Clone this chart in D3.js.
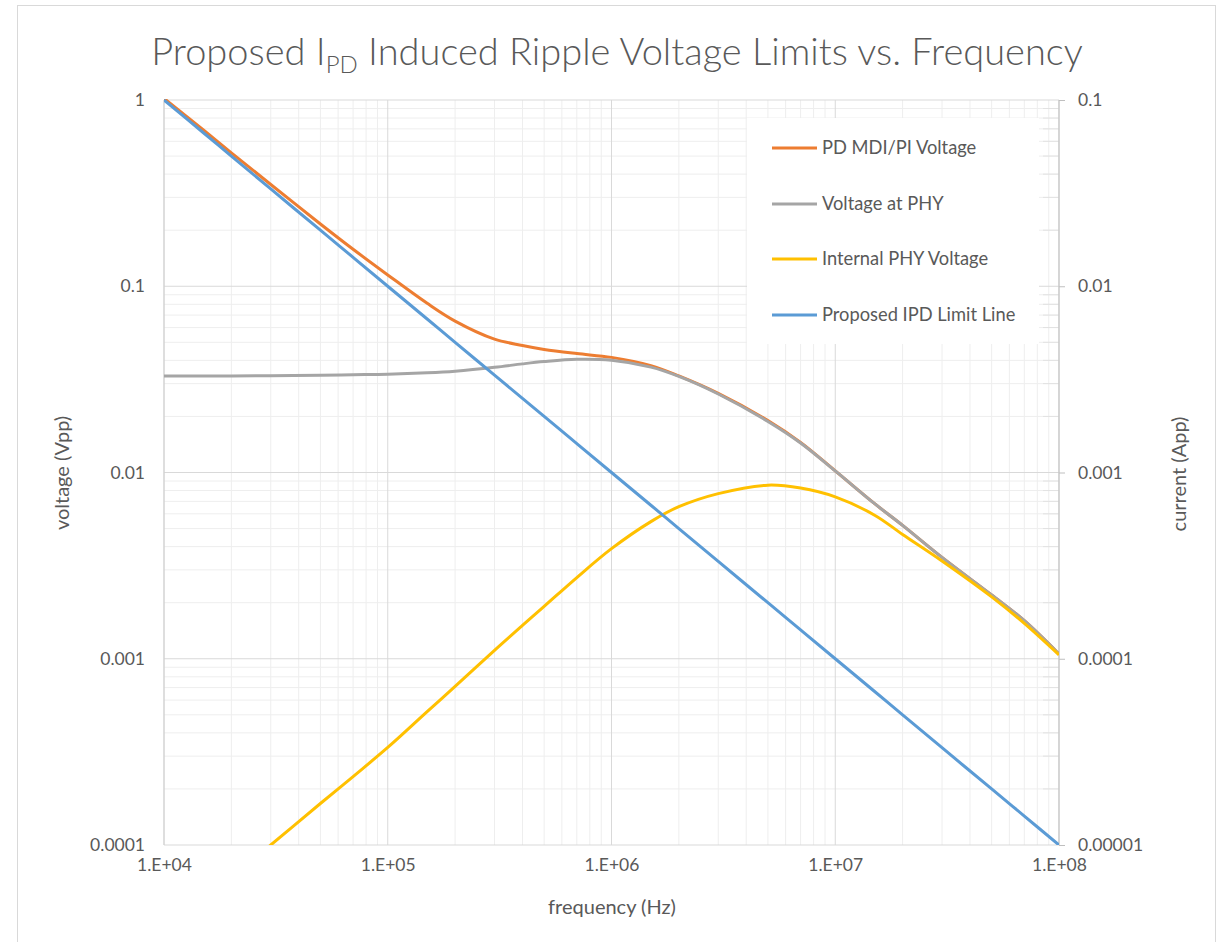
<!DOCTYPE html>
<html>
<head>
<meta charset="utf-8">
<script src="https://cdn.jsdelivr.net/npm/d3@7"></script>
<style>
  body { margin: 0; background: #fff; }
  svg text { font-family: Lato, "Open Sans", sans-serif; fill: #595959; }
</style>
</head>
<body>
<div id="chart"></div>
<script>
// frequency points (Hz)
const freq = [1e4, 1.5e4, 2e4, 3e4, 5e4, 7e4, 1e5, 1.5e5, 2e5, 3e5, 4e5, 5e5, 7e5,
  1e6, 1.5e6, 2e6, 3e6, 5e6, 7e6, 1e7, 1.5e7, 2e7, 3e7, 5e7, 7e7, 1e8]

// voltages (Vpp)
const pdVoltage = [1.02, 0.69, 0.52, 0.352, 0.216, 0.158, 0.115, 0.081, 0.065, 0.052, 0.0481, 0.0458, 0.0435,
  0.0415, 0.0375, 0.033, 0.0266, 0.019, 0.0145, 0.0102, 0.0068, 0.0052, 0.0035, 0.0022, 0.0016, 0.00106]
const phyVoltage = [0.033, 0.033, 0.033, 0.0331, 0.0333, 0.0335, 0.0337, 0.0343, 0.035, 0.0367, 0.0383, 0.0394, 0.0405,
  0.04, 0.0368, 0.0328, 0.0264, 0.0188, 0.0144, 0.0102, 0.0068, 0.0052, 0.0035, 0.0022, 0.0016, 0.00106]
const internalVoltage = [3.3e-5, 5.0e-5, 6.67e-5, 1.0e-4, 1.67e-4, 2.33e-4, 3.34e-4, 5.2e-4, 7.1e-4, 1.11e-3, 1.51e-3, 1.91e-3, 2.73e-3,
  3.9e-3, 5.45e-3, 6.55e-3, 7.7e-3, 8.55e-3, 8.25e-3, 7.4e-3, 5.9e-3, 4.65e-3, 3.35e-3, 2.15e-3, 1.55e-3, 1.05e-3]
const limitLine = [1, 0.667, 0.5, 0.333, 0.2, 0.143, 0.1, 0.0667, 0.05, 0.0333, 0.025, 0.02, 0.0143,
  0.01, 0.00667, 0.005, 0.00333, 0.002, 0.00143, 0.001, 6.67e-4, 5e-4, 3.33e-4, 2e-4, 1.43e-4, 1e-4]

const seriesNames = ["PD MDI/PI Voltage", "Voltage at PHY", "Internal PHY Voltage", "Proposed IPD Limit Line"]
const seriesColors = ["#ED7D31", "#A5A5A5", "#FFC000", "#5B9BD5"]
const seriesValues = [pdVoltage, phyVoltage, internalVoltage, limitLine]

// ticks
const xTicks = [1e4, 1e5, 1e6, 1e7, 1e8]
const xTickLabels = ["1.E+04", "1.E+05", "1.E+06", "1.E+07", "1.E+08"]
const leftTicks = [1, 0.1, 0.01, 0.001, 0.0001]
const leftTickLabels = ["1", "0.1", "0.01", "0.001", "0.0001"]
const rightTicks = [0.1, 0.01, 0.001, 0.0001, 0.00001]
const rightTickLabels = ["0.1", "0.01", "0.001", "0.0001", "0.00001"]

const width = 1222, height = 942
const plot = { left: 164, right: 1059, top: 100, bottom: 845 }

const svg = d3.select("#chart").append("svg")
  .attr("width", width)
  .attr("height", height)

// chart frame
svg.append("rect")
  .attr("x", 17.5).attr("y", 5.5)
  .attr("width", 1198).attr("height", 960)
  .attr("fill", "#fff")
  .attr("stroke", "#d9d9d9")

// scales
const x = d3.scaleLog().domain([1e4, 1e8]).range([plot.left, plot.right])
const y = d3.scaleLog().domain([1e-4, 1]).range([plot.bottom, plot.top])
const y2 = d3.scaleLog().domain([1e-5, 0.1]).range([plot.bottom, plot.top])

// gridlines
const grid = svg.append("g")
const isMajor = v => Math.abs(Math.log10(v) - Math.round(Math.log10(v))) < 1e-9

grid.selectAll(".vminor")
  .data(x.ticks().filter(d => !isMajor(d)))
  .join("line")
  .attr("x1", d => x(d)).attr("x2", d => x(d))
  .attr("y1", plot.top).attr("y2", plot.bottom)
  .attr("stroke", "#eeeeee")
grid.selectAll(".hminor")
  .data(y.ticks().filter(d => !isMajor(d)))
  .join("line")
  .attr("x1", plot.left).attr("x2", plot.right)
  .attr("y1", d => y(d)).attr("y2", d => y(d))
  .attr("stroke", "#eeeeee")
grid.selectAll(".vmajor")
  .data(xTicks)
  .join("line")
  .attr("x1", d => x(d)).attr("x2", d => x(d))
  .attr("y1", plot.top).attr("y2", plot.bottom)
  .attr("stroke", "#d9d9d9")
grid.selectAll(".hmajor")
  .data(leftTicks)
  .join("line")
  .attr("x1", plot.left).attr("x2", plot.right)
  .attr("y1", d => y(d)).attr("y2", d => y(d))
  .attr("stroke", "#d9d9d9")

// secondary axis minor ticks (inside)
grid.selectAll(".rminor")
  .data(y2.ticks().filter(d => !isMajor(d)))
  .join("line")
  .attr("x1", plot.right - 16).attr("x2", plot.right)
  .attr("y1", d => y2(d)).attr("y2", d => y2(d))
  .attr("stroke", "#e2e2e2")

// axis lines
svg.append("line")
  .attr("x1", plot.left).attr("x2", plot.left)
  .attr("y1", plot.top).attr("y2", plot.bottom)
  .attr("stroke", "#d0d0d0")
svg.append("line")
  .attr("x1", plot.right).attr("x2", plot.right)
  .attr("y1", plot.top).attr("y2", plot.bottom)
  .attr("stroke", "#bfbfbf")

// axes
const leftAxis = svg.append("g")
  .attr("transform", `translate(${plot.left},0)`)
  .call(d3.axisLeft(y).tickValues(leftTicks).tickFormat((d, i) => leftTickLabels[i]).tickSize(0).tickPadding(19))
const rightAxis = svg.append("g")
  .attr("transform", `translate(${plot.right},0)`)
  .call(d3.axisRight(y2).tickValues(rightTicks).tickFormat((d, i) => rightTickLabels[i]).tickSize(6).tickPadding(13))
const bottomAxis = svg.append("g")
  .attr("transform", `translate(0,${plot.bottom})`)
  .call(d3.axisBottom(x).tickValues(xTicks).tickFormat((d, i) => xTickLabels[i]).tickSize(0).tickPadding(14))

;[leftAxis, rightAxis, bottomAxis].forEach(a => {
  a.select(".domain").remove()
  a.selectAll(".tick line").attr("stroke", "#bfbfbf")
  a.selectAll("text")
    .style("font-size", "17.5px")
    .style("font-family", "Lato, 'Open Sans', sans-serif")
    .attr("fill", "#595959")
})

// series
svg.append("clipPath").attr("id", "plotClip")
  .append("rect")
  .attr("x", plot.left).attr("y", plot.top - 1)
  .attr("width", plot.right - plot.left)
  .attr("height", plot.bottom - plot.top + 1)

const line = d3.line()
  .x(d => x(d[0]))
  .y(d => y(d[1]))
  .curve(d3.curveCatmullRom.alpha(0.5))

svg.append("g").attr("clip-path", "url(#plotClip)")
  .selectAll("path")
  .data(seriesValues)
  .join("path")
  .attr("d", vals => line(freq.map((f, i) => [f, vals[i]])))
  .attr("fill", "none")
  .attr("stroke", (d, i) => seriesColors[i])
  .attr("stroke-width", 3)
  .attr("stroke-linejoin", "round")

// legend
const legend = svg.append("g")
legend.append("rect")
  .attr("x", 747).attr("y", 118)
  .attr("width", 292).attr("height", 226)
  .attr("fill", "#fff")
const legendRows = [148, 204, 259, 315]
seriesNames.forEach((name, i) => {
  legend.append("line")
    .attr("x1", 772).attr("x2", 817)
    .attr("y1", legendRows[i]).attr("y2", legendRows[i])
    .attr("stroke", seriesColors[i])
    .attr("stroke-width", 3)
  legend.append("text")
    .attr("x", 822).attr("y", legendRows[i])
    .attr("dy", "0.35em")
    .style("font-size", "18.3px")
    .text(name)
})

// titles
const title = svg.append("text")
  .attr("x", 617).attr("y", 65)
  .attr("text-anchor", "middle")
  .style("font-size", "38px")
  .style("font-weight", 300)
title.append("tspan").text("Proposed I")
title.append("tspan").attr("dy", 8).style("font-size", "24px").text("PD")
title.append("tspan").attr("dy", -8).text(" Induced Ripple Voltage Limits vs. Frequency")

svg.append("text")
  .attr("x", 612).attr("y", 914)
  .attr("text-anchor", "middle")
  .style("font-size", "20px")
  .text("frequency (Hz)")

svg.append("text")
  .attr("transform", "translate(69,473) rotate(-90)")
  .attr("text-anchor", "middle")
  .style("font-size", "20px")
  .text("voltage (Vpp)")

svg.append("text")
  .attr("transform", "translate(1186,474) rotate(-90)")
  .attr("text-anchor", "middle")
  .style("font-size", "20px")
  .text("current (App)")
</script>
</body>
</html>
